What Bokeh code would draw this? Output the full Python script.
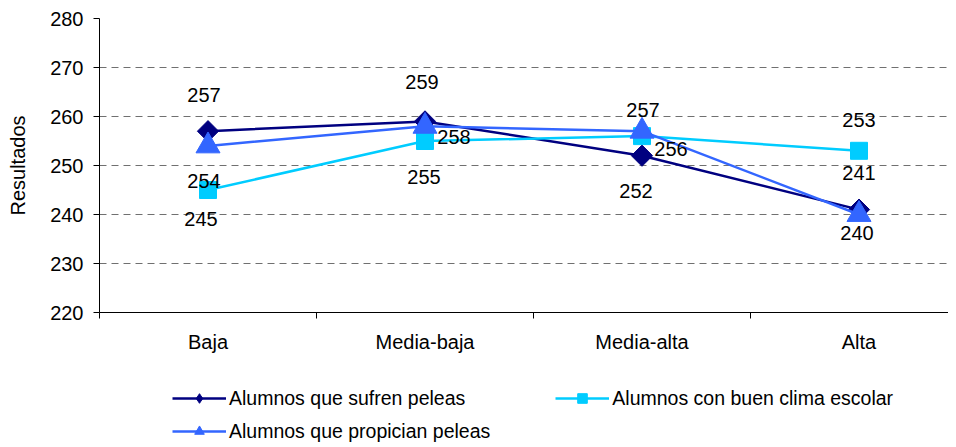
import numpy as np
from bokeh.plotting import figure
from bokeh.layouts import column
from bokeh.models import (ColumnDataSource, Range1d, FixedTicker, Legend, LegendItem)
from bokeh.core.properties import value
from bokeh.embed import file_html
from bokeh.resources import INLINE

categories = ["Baja", "Media-baja", "Media-alta", "Alta"]
sufren = [257, 259, 252, 241]
clima = [245, 255, 256, 253]
propician = [254, 258, 257, 240]
series_names = ["Alumnos que sufren peleas", "Alumnos con buen clima escolar",
                "Alumnos que propician peleas"]
y_ticks = [220, 230, 240, 250, 260, 270, 280]

# label placement (screen px offsets from the point, y downwards)
lab_dx = {"s": [-4, -3, -6, 0], "c": [-7, -1, 29, 0], "p": [-4, 29, 1, -2]}
lab_dy = {"s": [-36, -39, 35, -37], "c": [29, 36, 13, -31], "p": [35, 11, -21, 18]}

FONT = "Liberation Sans"
xs = [i + 0.5 for i in range(len(categories))]

p = figure(width=948, height=355, output_backend="svg", toolbar_location=None,
           x_range=Range1d(0, 849 / 217), y_range=Range1d(y_ticks[0], y_ticks[-1]),
           min_border_left=99, min_border_right=0, min_border_top=18, min_border_bottom=42)
p.outline_line_color = None
p.background_fill_color = "white"
p.border_fill_color = "white"

# y axis
p.yaxis.ticker = FixedTicker(ticks=y_ticks)
p.yaxis.axis_line_color = "black"
p.yaxis.major_tick_line_color = "black"
p.yaxis.major_tick_out = 6
p.yaxis.major_tick_in = 0
p.yaxis.minor_tick_line_color = None
p.yaxis.major_label_standoff = 10
p.yaxis.major_label_text_font = FONT
p.yaxis.major_label_text_font_size = "20px"
p.yaxis.major_label_text_color = "black"
p.yaxis.axis_label = "Resultados"
p.yaxis.axis_label_text_font = FONT
p.yaxis.axis_label_text_font_size = "20px"
p.yaxis.axis_label_text_font_style = "normal"
p.yaxis.axis_label_text_color = "black"
p.yaxis.axis_label_standoff = 18

# x axis
p.xaxis.ticker = FixedTicker(ticks=xs, minor_ticks=list(range(len(categories) + 1)))
p.xaxis.major_label_overrides = {x: c for x, c in zip(xs, categories)}
p.xaxis.major_tick_line_color = None
p.xaxis.major_tick_out = 0
p.xaxis.major_tick_in = 0
p.xaxis.minor_tick_line_color = "black"
p.xaxis.minor_tick_out = 6
p.xaxis.minor_tick_in = 0
p.xaxis.axis_line_color = "black"
p.xaxis.major_label_standoff = 12
p.xaxis.major_label_text_font = FONT
p.xaxis.major_label_text_font_size = "20px"
p.xaxis.major_label_text_color = "black"

p.xgrid.grid_line_color = None
p.ygrid.ticker = FixedTicker(ticks=y_ticks[1:])
p.ygrid.grid_line_color = "#707070"
p.ygrid.grid_line_dash = "7 5"
p.ygrid.grid_line_width = 1

# key, values, colour, marker (chart), size, angle, marker (legend)
specs = [
    ("s", sufren, "#000080", "square", 15, np.pi / 4, "diamond"),
    ("c", clima, "#00CCFF", "square", 17, 0.0, "square"),
    ("p", propician, "#3366FF", "triangle", 24, 0.0, "triangle"),
]

for key, vals, color, marker, size, ang, lmarker in specs:
    src = ColumnDataSource(dict(x=xs, y=vals))
    p.line("x", "y", source=src, line_color=color, line_width=2.5)
    p.scatter("x", "y", source=src, marker=marker, size=size, angle=ang,
              fill_color=color, line_color=color)

for key, vals, color, marker, size, ang, lmarker in specs:
    src = ColumnDataSource(dict(x=xs, y=vals, t=[str(v) for v in vals],
                                dx=lab_dx[key], dy=lab_dy[key]))
    p.text("x", "y", text="t", source=src, x_offset="dx", y_offset="dy",
           text_align="center", text_baseline="middle",
           text_font=value(FONT), text_font_size="20px", text_color="black")

# legend strip below the chart (series drawn outside its visible range,
# so only the legend entries show)
lg = figure(width=948, height=92, output_backend="svg", toolbar_location=None,
            x_range=Range1d(0, 1), y_range=Range1d(0, 1),
            min_border_left=0, min_border_right=0, min_border_top=0, min_border_bottom=0)
lg.axis.visible = False
lg.grid.grid_line_color = None
lg.outline_line_color = None

leg_items = []
for (key, vals, color, marker, size, ang, lmarker), name in zip(specs, series_names):
    src = ColumnDataSource(dict(x=xs, y=vals))
    ln = lg.line("x", "y", source=src, line_color=color, line_width=2.5)
    sc = lg.scatter("x", "y", source=src, marker=lmarker, size=size,
                    fill_color=color, line_color=color)
    leg_items.append(LegendItem(label=name, renderers=[ln, sc]))

common = dict(glyph_width=54, glyph_height=24, label_standoff=3,
              padding=0, margin=0, border_line_color=None, background_fill_alpha=0,
              label_text_font=FONT, label_text_font_size="19.5px",
              label_text_color="black")
legA = Legend(items=leg_items[:2], location=(73, 37), orientation="horizontal",
              spacing=90, **common)
legB = Legend(items=leg_items[2:], location=(73, 4), orientation="horizontal",
              spacing=0, **common)
lg.add_layout(legA, "center")
lg.add_layout(legB, "center")

layout = column(p, lg, spacing=0)
open("out.html", "w").write(file_html(layout, INLINE))
